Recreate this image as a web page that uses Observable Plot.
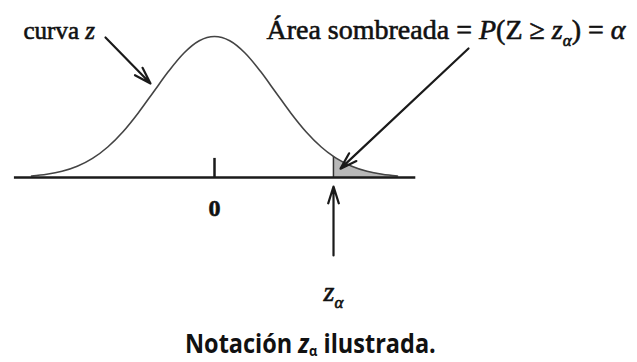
<!DOCTYPE html>
<html><head><meta charset="utf-8">
<script src="https://cdn.jsdelivr.net/npm/d3@7"></script>
<script src="https://cdn.jsdelivr.net/npm/@observablehq/plot@0.6"></script>
<style>
html,body{margin:0;padding:0;background:#fff;overflow:hidden;}
figure{margin:0;}
figcaption{font-family:"Open Sans",sans-serif;font-weight:bold;font-size:27px;height:42px;line-height:45px;color:#111;padding-left:185px;white-space:nowrap;}
figcaption span{display:inline-block;transform:scaleX(0.87);transform-origin:0 50%;}
figcaption sub{font-size:0.55em;vertical-align:-0.2em;line-height:0;}
</style></head><body><div id="chart"></div>
<script>
// Standard normal curve (z)
const zValues = [-3, -2.75, -2.5, -2.25, -2, -1.75, -1.5, -1.25, -1, -0.75, -0.5, -0.25, 0,
                 0.25, 0.5, 0.75, 1, 1.25, 1.5, 1.75, 1.95, 2, 2.25, 2.5, 2.75, 3];
const densityValues = [0.0044, 0.0091, 0.0175, 0.0317, 0.0540, 0.0863, 0.1295, 0.1826, 0.2420, 0.3011, 0.3521, 0.3867, 0.3989,
                       0.3867, 0.3521, 0.3011, 0.2420, 0.1826, 0.1295, 0.0863, 0.0596, 0.0540, 0.0317, 0.0175, 0.0091, 0.0044];
const zAlpha = 1.95;
const axisExtent = [-3.28, 3.30];
const tickZ = [0];
const tickLength = [0.054];

// Annotations (markup: {x} italic, _x subscript)
const labelMarkup = ["curva {z}", "Área sombreada = {P}(Z ≥ {z}_α) = {α}", "0", "{z}_α"];
const labelX = [-3.131, 0.852, 0, 1.787];
const labelY = [0.393, 0.393, -0.110, -0.348];
const labelSize = [25, 28, 24, 28];
const labelWeight = ["normal", "normal", "bold", "normal"];

const arrowX1 = [-1.787, 4.164, 1.951];
const arrowY1 = [0.396, 0.365, -0.2207];
const arrowX2 = [-1.049, 2.066, 1.951];
const arrowY2 = [0.266, 0.025, -0.0255];

const captionMarkup = "Notación {z}_α ilustrada.";

const strip = s => s.replace(/[{}_]/g, "");
const curve = zValues.map((z, i) => ({z, d: densityValues[i]}));
const tail = curve.filter(p => p.z >= zAlpha);
const arrows = arrowX1.map((x1, i) => ({x1, y1: arrowY1[i], x2: arrowX2[i], y2: arrowY2[i]}));
const labels = labelMarkup.map((m, i) => ({text: strip(m), x: labelX[i], y: labelY[i]}));

function parse(m) {
  const out = []; let buf = ""; let i = 0;
  const flush = () => { if (buf) { out.push({t: buf, k: "n"}); buf = ""; } };
  while (i < m.length) {
    const c = m[i];
    if (c === "{") { flush(); const j = m.indexOf("}", i); out.push({t: m.slice(i + 1, j), k: "i"}); i = j + 1; }
    else if (c === "_") { flush(); out.push({t: m[i + 1], k: "s"}); i += 2; }
    else { buf += c; i++; }
  }
  flush();
  return out;
}

// caption
const cap = document.createElement("span");
for (const seg of parse(captionMarkup)) {
  const el = seg.k === "i" ? document.createElement("i") : seg.k === "s" ? document.createElement("sub") : document.createTextNode(seg.t);
  if (seg.k !== "n") el.textContent = seg.t;
  cap.appendChild(el);
}

const H = 320;
const chart = Plot.plot({
  width: 637, height: H, margin: 0,
  x: {domain: [-214 / 61, 423 / 61], axis: null},
  y: {domain: [(177 - H) / 353.5, 177 / 353.5], axis: null},
  caption: cap,
  marks: [
    Plot.areaY(tail, {x: "z", y: "d", fill: "#b8b8b8", curve: "monotone-x"}),
    Plot.ruleX([zAlpha], {y1: 0, y2: tail[0].d, stroke: "#333", strokeWidth: 1.5}),
    Plot.line(curve, {x: "z", y: "d", stroke: "#444", strokeWidth: 1.6, curve: "monotone-x"}),
    Plot.ruleY([0], {x1: axisExtent[0], x2: axisExtent[1], stroke: "#1a1a1a", strokeWidth: 2.6}),
    Plot.ruleX(tickZ, {y1: 0, y2: (d, i) => tickLength[i], stroke: "#1a1a1a", strokeWidth: 2.5}),
    Plot.arrow(arrows, {x1: "x1", y1: "y1", x2: "x2", y2: "y2", stroke: "#1a1a1a", strokeWidth: 2.2, headLength: 12, headAngle: 35}),
    ...labels.map((l, i) => Plot.text([l], {
      x: "x", y: "y", text: "text", className: "lbl" + i,
      textAnchor: i === 2 ? "middle" : "start", lineAnchor: "bottom",
      fontFamily: "Liberation Serif, serif", fontSize: labelSize[i], fontWeight: labelWeight[i],
      fill: "#111", stroke: "#111", strokeWidth: 0.6
    }))
  ]
});
document.getElementById("chart").appendChild(chart);

// rich text in SVG labels
const NS = "http://www.w3.org/2000/svg";
labelMarkup.forEach((m, i) => {
  const t = chart.querySelector("g.lbl" + i + " text");
  if (!t) return;
  const fs = labelSize[i];
  t.textContent = "";
  let shifted = false;
  for (const seg of parse(m)) {
    const ts = document.createElementNS(NS, "tspan");
    ts.textContent = seg.t;
    if (seg.k === "i") ts.setAttribute("font-style", "italic");
    if (seg.k === "s") {
      ts.setAttribute("font-size", Math.round(fs * 0.6));
      ts.setAttribute("font-style", "italic");
      ts.setAttribute("dy", fs * 0.25);
      shifted = true;
    } else if (shifted) {
      ts.setAttribute("dy", -fs * 0.25);
      shifted = false;
    }
    t.appendChild(ts);
  }
});
</script></body></html>
